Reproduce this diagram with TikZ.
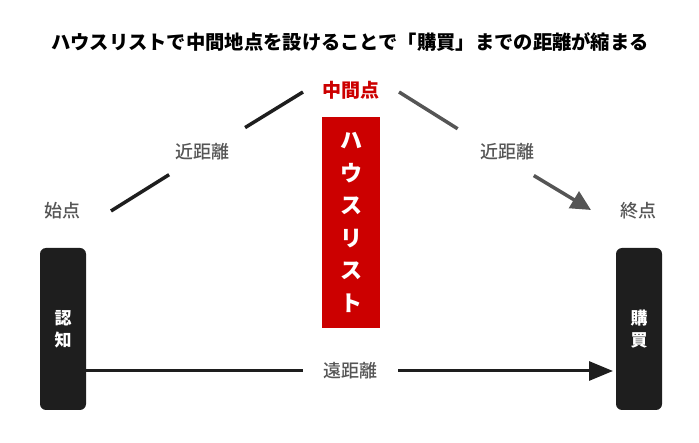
\documentclass[tikz,border=0pt]{standalone}
\usepackage{fontspec}
\setmainfont{Noto Sans CJK JP}
\newfontfamily\mediumfont{Noto Sans CJK JP Medium}
\usetikzlibrary{arrows.meta}
\definecolor{darkline}{HTML}{1E1E1E}
\definecolor{greyline}{HTML}{555555}
\definecolor{funnelred}{HTML}{CC0000}
\newcommand{\labelSize}[0]{\fontsize{18}{21}\selectfont}

\begin{document}
\begin{tikzpicture}[x=1pt, y=-1pt]
  \tikzset{
    stage/.style={fill=darkline, rounded corners=6pt, minimum width=46pt, minimum height=162pt,
      inner sep=0pt, text=white, align=center, font=\bfseries\fontsize{17}{22}\selectfont},
    pointlabel/.style={text=greyline, font=\mediumfont\labelSize},
    gapmark/.style={circle, minimum size=#1, inner sep=0pt},
    shortline/.style={line width=3.5pt},
  }
  \useasboundingbox (0,0) rectangle (699,443);
  \node (title) at (350,42) {\bfseries\fontsize{19.3}{22}\selectfont ハウスリストで中間地点を設けることで「購買」までの距離が縮まる};

  \node[stage] (recog) at (63,329) {認\\知};
  \node[stage] (buy) at (639,329) {購\\買};
  \node[fill=funnelred, minimum width=58pt, minimum height=211pt, inner sep=0pt,
    text=white, align=center, font=\bfseries\fontsize{22}{32.5}\selectfont]
    (houselist) at (351,222.5) {ハ\\ウ\\ス\\リ\\ス\\ト};

  \node[pointlabel] (start) at (62,211) {始点};
  \node[pointlabel] (goal) at (638,211) {終点};
  \node[text=funnelred, font=\bfseries\fontsize{19}{21}\selectfont] (middle) at (351,90) {中間点};
  \node[pointlabel] (nearL) at (202,152) {近距離};
  \node[pointlabel] (nearR) at (507,152) {近距離};
  \node[pointlabel] (far) at (350,371) {遠距離};

  \coordinate (upL-a) at (111,211);
  \coordinate (upL-b) at (303,92);
  \coordinate (downR-a) at (399,92);
  \coordinate (downR-b) at (591,210);
  \coordinate (long-a) at (86,371);
  \coordinate (long-b) at (613,371);
  \node[gapmark=89pt] (gapL) at (207,151) {};
  \node[gapmark=89pt] (gapR) at (495.5,152.5) {};
  \node[gapmark=95pt] (gapB) at (350.5,371) {};

  \draw[shortline, darkline] (upL-a) -- (gapL);
  \draw[shortline, darkline] (gapL) -- (upL-b);
  \draw[shortline, greyline] (downR-a) -- (gapR);
  \draw[shortline, greyline, -{Triangle[length=20pt, width=19pt]}] (gapR) -- (downR-b);
  \draw[line width=3pt, darkline] (long-a) -- (gapB);
  \draw[line width=3pt, darkline, -{Triangle[length=24pt, width=19pt]}] (gapB) -- (long-b);
\end{tikzpicture}
\end{document}
